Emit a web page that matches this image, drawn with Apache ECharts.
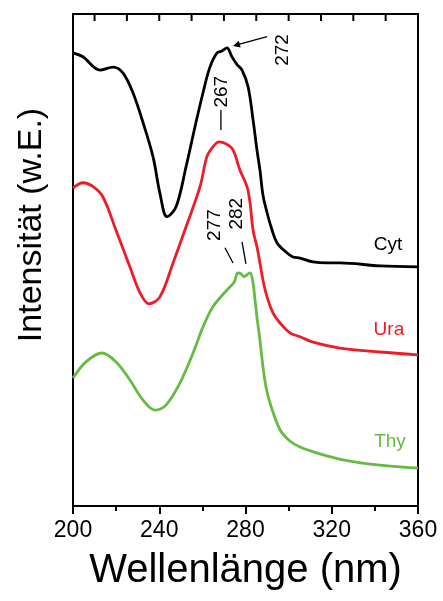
<!DOCTYPE html>
<html>
<head>
<meta charset="utf-8">
<script src="https://cdn.jsdelivr.net/npm/echarts@6/dist/echarts.min.js"></script>
<style>
html, body { margin: 0; padding: 0; background: #fff; }
#chart { width: 443px; height: 601px; }
</style>
</head>
<body>
<div id="chart"></div>
<script>
// wavelength (nm) / intensity (arb. units)
var cytX = [200, 204.6, 212.5, 218.6, 223.2, 227.8, 232.5, 237.1, 240.3, 243.6, 247.8, 252.4, 257.0, 260.3, 263.5, 266.8, 269.1, 271.4, 273.7, 276.1, 278.4, 281.2, 283.5, 285.3, 286.7, 288.1, 290.0, 292.3, 294.6, 298.3, 302.0, 305.3, 311.3, 317.8, 323.8, 342.4, 360];
var cytY = [92.1, 91.3, 88.6, 89.2, 88.0, 84.0, 77.9, 71.0, 63.6, 58.8, 60.8, 68.9, 77.9, 84.0, 89.2, 92.1, 92.5, 93.1, 91.3, 89.7, 88.6, 85.2, 78.5, 72.4, 68.3, 63.2, 59.6, 56.1, 53.5, 51.8, 50.6, 50.4, 49.6, 49.4, 49.4, 48.8, 48.6];

var uraX = [200, 204.6, 209.3, 213.9, 219.9, 226.4, 231.1, 235.2, 240.3, 246.4, 252.4, 258.9, 262.1, 264.9, 267.7, 271.0, 274.2, 277.4, 280.7, 282.1, 283.5, 285.3, 286.7, 288.1, 290.0, 292.8, 296.0, 300.6, 305.3, 311.3, 323.8, 342.4, 360];
var uraY = [64.6, 65.7, 64.9, 62.8, 56.1, 48.6, 43.3, 41.1, 42.5, 49.4, 56.7, 64.9, 71.0, 73.0, 74.0, 73.6, 72.4, 68.3, 64.9, 61.6, 56.1, 52.7, 49.4, 45.9, 42.5, 39.2, 37.2, 35.2, 34.4, 33.3, 32.1, 31.3, 30.7];

var thyX = [200, 206.0, 213.4, 219.9, 226.4, 232.5, 238.0, 243.1, 249.6, 255.7, 260.3, 264.9, 271.4, 274.7, 276.5, 277.9, 279.3, 280.7, 282.1, 283.5, 284.4, 285.3, 286.7, 288.1, 289.5, 291.4, 296.0, 300.6, 305.3, 314.5, 325.2, 342.4, 360];
var thyY = [26.0, 29.3, 31.1, 29.3, 25.6, 21.5, 19.5, 20.5, 25.0, 31.1, 36.4, 40.5, 43.9, 45.5, 47.4, 47.2, 46.6, 47.0, 47.4, 45.3, 41.9, 38.4, 33.7, 28.3, 24.2, 20.9, 15.5, 13.2, 12.0, 10.6, 9.4, 8.3, 7.7];

var seriesNames = ['Cyt', 'Ura', 'Thy'];
var seriesColors = ['#000000', '#ee1c25', '#66bb44'];
// minor ticks along the top frame (nm)
var topTicks = [210, 225, 240, 255, 270, 285, 300, 315, 330, 345];

// [text, x, y] label anchors in data units
var nameLabels = [['Cyt', 346.1, 53.1], ['Ura', 346.5, 35.8], ['Thy', 347.0, 13.0]];
var peakLabels = [['272', 297.4, 92.7], ['267', 269.1, 84.2], ['277', 265.9, 57.1], ['282', 276.1, 59.4]];
var peakLines = [
    [[268.6, 80.5], [268.6, 76.4]],
    [[270.5, 52.5], [274.2, 49.4]],
    [[278.4, 53.7], [280.2, 49.2]]
];
var peakArrow = [[290.0, 95.4], [274.2, 93.5]];

function zip(xs, ys) {
    var out = [];
    for (var i = 0; i < xs.length; i++) out.push([xs[i], ys[i]]);
    return out;
}

var font = 'Arial, "Liberation Sans", sans-serif';
var chart = echarts.init(document.getElementById('chart'));

var allData = [zip(cytX, cytY), zip(uraX, uraY), zip(thyX, thyY)];

var option = {
    animation: false,
    grid: {
        left: 73, right: 25, top: 14, bottom: 95,
        show: true, borderColor: '#000', borderWidth: 2
    },
    xAxis: {
        type: 'value',
        min: 200, max: 360, interval: 40,
        name: 'Wellenlänge (nm)',
        nameLocation: 'middle',
        nameGap: 45,
        nameTextStyle: { fontFamily: font, fontSize: 40, color: '#000' },
        axisLine: { show: true, lineStyle: { color: '#000', width: 2 } },
        axisTick: { show: true, inside: false, length: 8, lineStyle: { color: '#000', width: 2 } },
        minorTick: { show: true, splitNumber: 2, length: 5, lineStyle: { color: '#000', width: 2 } },
        axisLabel: { fontFamily: font, fontSize: 23, color: '#000', margin: 13 },
        splitLine: { show: false }
    },
    yAxis: {
        type: 'value',
        min: 0, max: 100,
        axisLine: { show: false },
        axisTick: { show: false },
        axisLabel: { show: false },
        splitLine: { show: false }
    },
    series: allData.map(function (d, i) {
        return {
            name: seriesNames[i],
            type: 'line',
            data: d,
            smooth: 0.35,
            showSymbol: false,
            lineStyle: { color: seriesColors[i], width: 2.8 },
            z: 3 - i
        };
    })
};

chart.setOption(option);

function px(p) {
    return chart.convertToPixel({ xAxisIndex: 0, yAxisIndex: 0 }, p);
}

var graphics = [{
    type: 'text',
    x: 32, y: 225,
    rotation: Math.PI / 2,
    style: {
        text: 'Intensität (w.E.)',
        font: '34px ' + font,
        fill: '#000',
        textAlign: 'center',
        textVerticalAlign: 'middle'
    }
}];

topTicks.forEach(function (t) {
    var p = px([t, 100]);
    graphics.push({
        type: 'line',
        shape: { x1: p[0], y1: p[1], x2: p[0], y2: p[1] + 7 },
        style: { stroke: '#000', lineWidth: 2 }
    });
});

nameLabels.forEach(function (l, i) {
    var p = px([l[1], l[2]]);
    graphics.push({
        type: 'text', x: p[0], y: p[1],
        style: { text: l[0], font: '19px ' + font, fill: seriesColors[i], textAlign: 'center', textVerticalAlign: 'middle' }
    });
});

peakLabels.forEach(function (l) {
    var p = px([l[1], l[2]]);
    graphics.push({
        type: 'text', x: p[0], y: p[1], rotation: Math.PI / 2,
        style: { text: l[0], font: '19px ' + font, fill: '#000', textAlign: 'center', textVerticalAlign: 'middle' }
    });
});

peakLines.forEach(function (seg) {
    var a = px(seg[0]), b = px(seg[1]);
    graphics.push({
        type: 'line',
        shape: { x1: a[0], y1: a[1], x2: b[0], y2: b[1] },
        style: { stroke: '#000', lineWidth: 1.3 }
    });
});

// arrow pointing at the 272 peak
var a0 = px(peakArrow[0]), a1 = px(peakArrow[1]);
var ang = Math.atan2(a1[1] - a0[1], a1[0] - a0[0]);
var hl = 7, hw = 3.5;
graphics.push({
    type: 'line',
    shape: { x1: a0[0], y1: a0[1], x2: a1[0] - Math.cos(ang) * 4, y2: a1[1] - Math.sin(ang) * 4 },
    style: { stroke: '#000', lineWidth: 1.3 }
});
graphics.push({
    type: 'polygon',
    shape: {
        points: [
            [a1[0], a1[1]],
            [a1[0] - hl * Math.cos(ang) + hw * Math.sin(ang), a1[1] - hl * Math.sin(ang) - hw * Math.cos(ang)],
            [a1[0] - hl * Math.cos(ang) - hw * Math.sin(ang), a1[1] - hl * Math.sin(ang) + hw * Math.cos(ang)]
        ]
    },
    style: { fill: '#000' }
});

chart.setOption({ graphic: graphics });

window.addEventListener('resize', function () {
    chart.resize();
});
</script>
</body>
</html>
